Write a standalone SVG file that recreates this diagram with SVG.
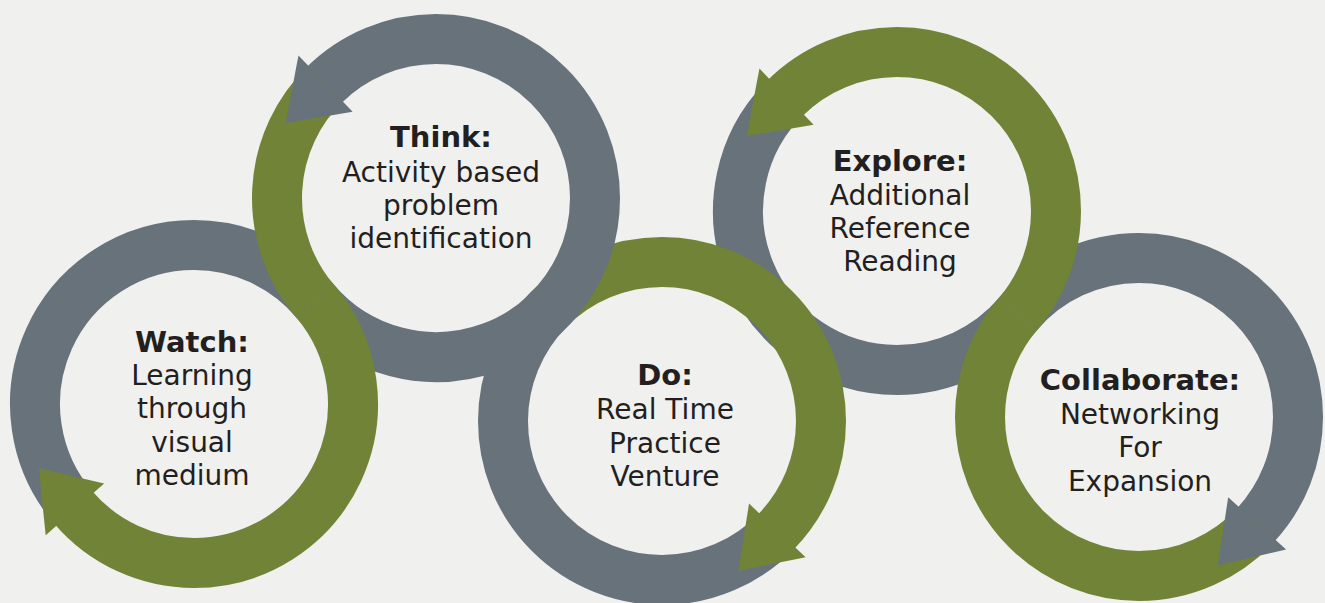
<svg xmlns="http://www.w3.org/2000/svg" width="1325" height="603" viewBox="0 0 1325 603">
<defs>
<style>
.gs{fill:none;stroke:#68727b;stroke-width:50;stroke-linecap:butt}
.vs{fill:none;stroke:#718337;stroke-width:50;stroke-linecap:butt}
.gf{fill:#68727b}
.vf{fill:#718337}
.t{font-family:"DejaVu Sans","Open Sans",sans-serif;font-size:28px;fill:#231f20;text-anchor:middle}
.h{font-weight:700;font-size:29px}
</style>
</defs>
<rect width="1325" height="603" fill="#f0f0ee"/>
<g id="connectors">
  <path class="gs" d="M786.55,96.63 A159,159 0 0 0 897,370 A159,159 0 0 0 1018.08,314.06"/>
  <path class="gs" d="M1017.92,313.94 A159,159 0 0 1 1139,258 A159,159 0 0 1 1298,417 A159,159 0 0 1 1255.29,525.44"/>
  <path class="gs" d="M74.91,509.35 A159,159 0 0 1 194,245 A159,159 0 0 1 315.08,300.94"/>
  <path class="gs" d="M777.34,530.46 A159,159 0 0 1 662,580 A159,159 0 0 1 503,421 A159,159 0 0 1 548.82,309.32"/>
  <path class="vs" d="M548.82,309.32 A159,159 0 0 1 662,262 A159,159 0 0 1 821,421 A159,159 0 0 1 775.41,532.44"/>
  <path class="gs" d="M314.92,301.06 A159,159 0 0 0 595,198 A159,159 0 0 0 436,39 A159,159 0 0 0 323.57,85.57"/>
  <path class="vs" d="M325.55,83.63 A159,159 0 0 0 314.92,301.06"/>
  <path class="vs" d="M315.08,300.94 A159,159 0 0 1 194,563 A159,159 0 0 1 73.10,507.25"/>
  <path class="vs" d="M1018.08,314.06 A159,159 0 0 0 1056,211 A159,159 0 0 0 897,52 A159,159 0 0 0 784.57,98.57"/>
  <path class="vs" d="M1257.15,523.39 A159,159 0 0 1 1139,576 A159,159 0 0 1 980,417 A159,159 0 0 1 1017.92,313.94"/>
  <polygon class="vf" points="104.12,483.51 38.79,468.29 45.70,535.19"/>
  <polygon class="gf" points="352.64,111.68 285.66,123.04 298.45,55.58"/>
  <polygon class="vf" points="749.05,503.61 738.27,570.69 805.63,557.30"/>
  <polygon class="vf" points="813.64,124.68 746.66,136.04 759.45,68.58"/>
  <polygon class="gf" points="1228.17,497.29 1217.88,565.33 1286.13,549.48"/>
</g>
<g id="watch">
  <text class="t" x="192" y="351.5"><tspan class="h">Watch:</tspan><tspan x="192" dy="33.5">Learning</tspan><tspan x="192" dy="33.3">through</tspan><tspan x="192" dy="33.3">visual</tspan><tspan x="192" dy="33.4">medium</tspan></text>
</g>
<g id="think">
  <text class="t" x="441" y="147"><tspan class="h">Think:</tspan><tspan x="441" dy="34.5">Activity based</tspan><tspan x="441" dy="33">problem</tspan><tspan x="441" dy="33.5">identification</tspan></text>
</g>
<g id="do">
  <text class="t" x="665" y="385"><tspan class="h">Do:</tspan><tspan x="665" dy="34">Real Time</tspan><tspan x="665" dy="33.5">Practice</tspan><tspan x="665" dy="33.5">Venture</tspan></text>
</g>
<g id="explore">
  <text class="t" x="900" y="171"><tspan class="h">Explore:</tspan><tspan x="900" dy="33.5">Additional</tspan><tspan x="900" dy="33.5">Reference</tspan><tspan x="900" dy="33">Reading</tspan></text>
</g>
<g id="collaborate">
  <text class="t" x="1140" y="390"><tspan class="h">Collaborate:</tspan><tspan x="1140" dy="34">Networking</tspan><tspan x="1140" dy="33">For</tspan><tspan x="1140" dy="34">Expansion</tspan></text>
</g>
</svg>
